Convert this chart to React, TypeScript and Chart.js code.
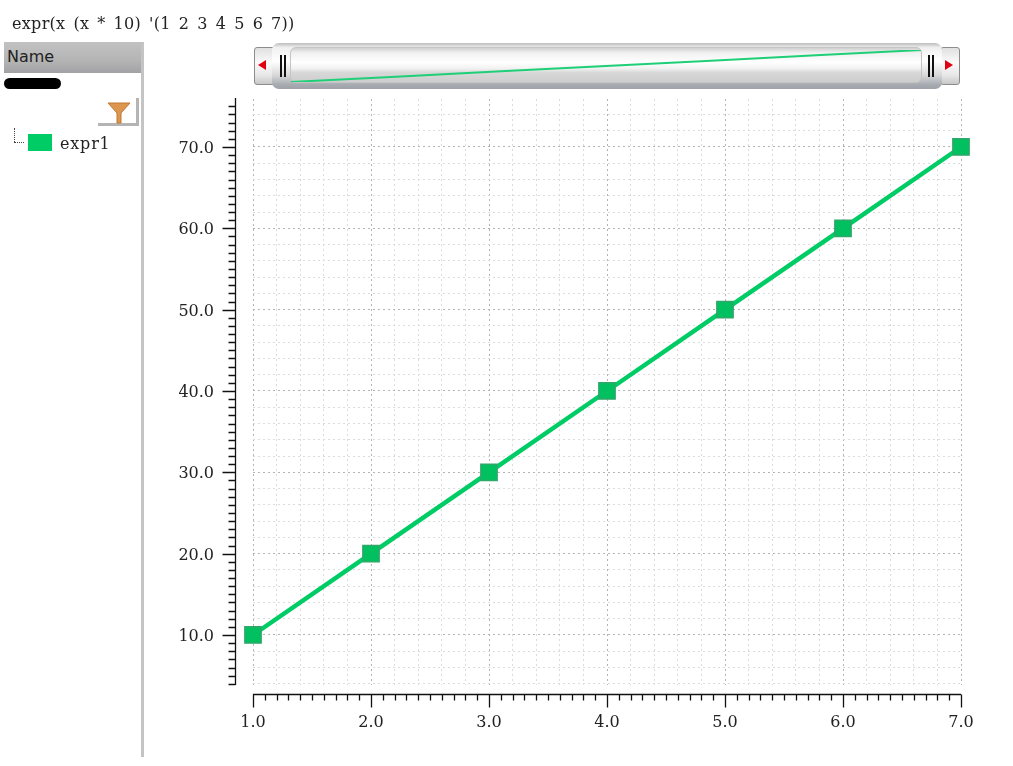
import React, { useEffect, useRef } from "react";
import { Chart, registerables } from "chart.js";

Chart.register(...registerables);

const xValues = [1, 2, 3, 4, 5, 6, 7];
const seriesValues = [10, 20, 30, 40, 50, 60, 70];
const titleText = "expr(x (x * 10) '(1 2 3 4 5 6 7))";
const seriesName = "expr1";
const headerName = "Name";
const GREEN = "#00cc66";
const TICK_FONT = "DejaVu Serif";

const near = (v: number, step: number) => Math.abs(v / step - Math.round(v / step)) < 1e-6;

const axisPlugin = {
  id: "offsetAxes",
  afterDraw(chart: any) {
    const { ctx, scales } = chart;
    const xs = scales.x, ys = scales.y;
    const axisY = 694.5, axisX = 235.5;
    ctx.save();
    ctx.strokeStyle = "#111";
    ctx.lineWidth = 1.3;
    ctx.beginPath();
    ctx.moveTo(xs.left, axisY);
    ctx.lineTo(xs.right, axisY);
    ctx.moveTo(axisX, ys.top - 1);
    ctx.lineTo(axisX, ys.bottom);
    xs.ticks.forEach((t: any) => {
      const p = Math.round(xs.getPixelForValue(t.value)) + 0.5;
      ctx.moveTo(p, axisY);
      ctx.lineTo(p, axisY + (near(t.value, 1) ? 13 : 6));
    });
    ys.ticks.forEach((t: any) => {
      const p = Math.round(ys.getPixelForValue(t.value)) + 0.5;
      ctx.moveTo(axisX, p);
      ctx.lineTo(axisX - (near(t.value, 10) ? 13 : 7), p);
    });
    ctx.stroke();
    ctx.restore();
  },
};

function PlotChart() {
  const ref = useRef<HTMLCanvasElement>(null);
  useEffect(() => {
    const chart = new Chart(ref.current!, {
      type: "line",
      data: {
        datasets: [
          {
            data: xValues.map((x, i) => ({ x, y: seriesValues[i] })),
            borderColor: GREEN,
            borderWidth: 4.5,
            pointStyle: "rect",
            pointRadius: 11.5,
            pointBackgroundColor: "#00c060",
            pointBorderColor: "#2fa86a",
            pointBorderWidth: 1.5,
            clip: false,
          } as any,
        ],
      },
      plugins: [axisPlugin],
      options: {
        animation: false,
        responsive: false,
        layout: { padding: { top: 99, right: 52, left: 0, bottom: 0 } },
        plugins: { legend: { display: false }, tooltip: { enabled: false } },
        scales: {
          x: {
            type: "linear",
            min: 1,
            max: 7,
            afterFit: (s: any) => { s.height = 81; },
            border: { display: false, dash: [2, 3] },
            grid: {
              drawTicks: false,
              lineWidth: 1,
              color: (c: any) =>
                near(c.tick.value, 1) ? "#b4b4b4" : near(c.tick.value, 0.2) ? "#dcdcdc" : "transparent",
            },
            ticks: {
              stepSize: 0.1,
              autoSkip: false,
              maxRotation: 0,
              includeBounds: false,
              padding: 28,
              color: "#222",
              font: { family: TICK_FONT, size: 16 },
              callback: (v: any) => (near(Number(v), 1) ? Number(v).toFixed(1) : ""),
            },
          },
          y: {
            type: "linear",
            min: 3.85,
            max: 75.9,
            afterFit: (s: any) => { s.width = 253; },
            border: { display: false, dash: [2, 3] },
            grid: {
              drawTicks: false,
              lineWidth: 1,
              color: (c: any) =>
                near(c.tick.value, 10) ? "#b4b4b4" : near(c.tick.value, 2) ? "#dcdcdc" : "transparent",
            },
            ticks: {
              stepSize: 1,
              autoSkip: false,
              includeBounds: false,
              padding: 39,
              labelOffset: 2,
              color: "#222",
              font: { family: TICK_FONT, size: 16 },
              callback: (v: any) => (near(Number(v), 10) ? Number(v).toFixed(1) : ""),
            },
          },
        },
      } as any,
    });
    return () => chart.destroy();
  }, []);
  return (
    <canvas
      ref={ref}
      width={1013}
      height={766}
      style={{ position: "absolute", left: 0, top: 0, width: 1013, height: 766 }}
    />
  );
}

function OverviewChart() {
  const ref = useRef<HTMLCanvasElement>(null);
  useEffect(() => {
    const chart = new Chart(ref.current!, {
      type: "line",
      data: {
        datasets: [
          {
            data: xValues.map((x, i) => ({ x, y: seriesValues[i] })),
            borderColor: "#1fcf78",
            borderWidth: 2,
            pointRadius: 0,
          } as any,
        ],
      },
      options: {
        animation: false,
        responsive: false,
        plugins: { legend: { display: false }, tooltip: { enabled: false } },
        scales: {
          x: { type: "linear", display: false, min: 1, max: 7 },
          y: { type: "linear", display: false, min: 10, max: 70 },
        },
      } as any,
    });
    return () => chart.destroy();
  }, []);
  return (
    <canvas
      ref={ref}
      width={630}
      height={32}
      style={{ position: "absolute", left: 291, top: 50, width: 630, height: 32 }}
    />
  );
}

const box = (l: number, t: number, w: number, h: number, extra: React.CSSProperties = {}): React.CSSProperties => ({
  position: "absolute",
  left: l,
  top: t,
  width: w,
  height: h,
  boxSizing: "border-box",
  ...extra,
});

const chrome = "linear-gradient(#d0d0d0 0%, #f0f0f0 14%, #ffffff 42%, #f2f2f2 60%, #d8d8d8 72%, #cdcdce 100%)";
const outer = "linear-gradient(#bdbdbd 0%, #f0f0f0 10%, #ffffff 40%, #d8d8d8 70%, #a8acb2 90%, #9ea2a8 100%)";

export default function App() {
  return (
    <div style={{ position: "fixed", left: 0, top: 0, width: 1013, height: 766, background: "#fff", overflow: "hidden" }}>
      <PlotChart />

      <div style={{ position: "absolute", left: 12, top: 14, fontFamily: TICK_FONT, fontSize: 16, letterSpacing: 0.3, wordSpacing: 2.6, color: "#222", whiteSpace: "pre" }}>
        {titleText}
      </div>

      <div style={box(4, 42, 139, 31, { background: "linear-gradient(#c2c2c2, #b4b4b4 60%, #a2a2a6)" })} />
      <div style={{ position: "absolute", left: 7, top: 47, fontFamily: "DejaVu Sans", fontSize: 16, color: "#222" }}>{headerName}</div>
      <div style={box(141, 42, 3, 715, { background: "#c4c4c4" })} />
      <div style={box(4, 78, 57, 11, { background: "#000", borderRadius: 6 })} />

      <div style={box(98, 123, 41, 3, { background: "#b4b4b4" })} />
      <div style={box(136, 98, 3, 28, { background: "#b4b4b4" })} />
      <svg style={{ position: "absolute", left: 106, top: 101, width: 26, height: 24 }} viewBox="0 0 26 24">
        <polygon points="2,2 24,2 15,12 15,22 11,22 11,12" fill="#dc9650" stroke="#c07830" strokeWidth="1" />
      </svg>

      <div style={box(14, 128, 1, 14, { borderLeft: "1px dotted #444" })} />
      <div style={box(14, 142, 10, 1, { borderTop: "1px dotted #444" })} />
      <div style={box(28, 134, 24, 17, { background: "#00cc66" })} />
      <div style={{ position: "absolute", left: 60, top: 134, fontFamily: TICK_FONT, fontSize: 16, letterSpacing: 0.8, color: "#222" }}>{seriesName}</div>

      <div style={box(254, 47, 22, 38, { background: "linear-gradient(#e0e0e0, #fafafa 40%, #e8e8e8 75%, #c8c8c8)", border: "1px solid #8c8c8c", borderRadius: 3 })} />
      <div style={box(940, 47, 20, 38, { background: "linear-gradient(#e0e0e0, #fafafa 40%, #e8e8e8 75%, #c8c8c8)", border: "1px solid #8c8c8c", borderRadius: 3 })} />
      <svg style={{ position: "absolute", left: 256, top: 58, width: 12, height: 14 }} viewBox="0 0 12 14">
        <polygon points="2,7 10,2 10,12" fill="#e00010" />
      </svg>
      <svg style={{ position: "absolute", left: 943, top: 58, width: 12, height: 14 }} viewBox="0 0 12 14">
        <polygon points="2,2 10,7 2,12" fill="#e00010" />
      </svg>
      <div style={box(272, 43, 670, 46, { background: outer, borderRadius: 7 })} />
      <div style={box(290, 47, 632, 36, { background: chrome, border: "1px solid #c4c4c4", borderRadius: 6 })} />
      <div style={box(280, 55, 2, 22, { background: "#111" })} />
      <div style={box(284, 55, 2, 22, { background: "#111" })} />
      <div style={box(928, 55, 2, 22, { background: "#111" })} />
      <div style={box(932, 55, 2, 22, { background: "#111" })} />
      <OverviewChart />
    </div>
  );
}
